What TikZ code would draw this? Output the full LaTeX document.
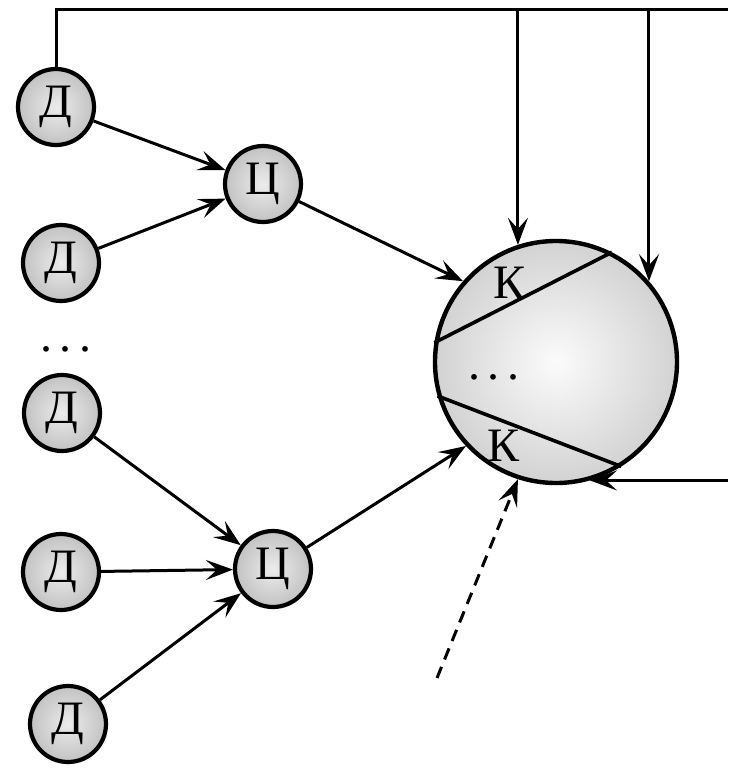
\documentclass[tikz,border=0pt]{standalone}
\usepackage{fontspec}
\setmainfont{Liberation Serif}
\usetikzlibrary{arrows.meta}
\begin{document}
\begin{tikzpicture}[x=1pt,y=-1pt,
  small/.style={circle,draw,line width=4.2pt,minimum size=76pt,inner sep=0pt,
    shading=radial,inner color=gray!15,outer color=gray!48,
    font=\fontsize{48}{48}\selectfont},
  bigc/.style={circle,draw,line width=4.4pt,minimum size=242pt,inner sep=0pt,
    shading=radial,inner color=gray!3,outer color=gray!35},
  lbl/.style={font=\fontsize{48}{48}\selectfont,inner sep=0pt},
  arr/.style={line width=3pt,-{Stealth[length=27pt,width=20pt,inset=11pt]}},
  ln/.style={line width=3pt},
  dsh/.style={arr,dash pattern=on 12pt off 8pt}]
\useasboundingbox (0,0) rectangle (728,768);
% nodes
\node[small] (d1) at (56,107) {Д};
\node[small] (d2) at (61,263) {Д};
\node[small] (c1) at (263,184) {Ц};
\node[lbl,anchor=base] (dl) at (66,351) {.\hspace{8pt}.\hspace{8pt}.};
\node[small] (d3) at (62,413) {Д};
\node[small] (d4) at (61,572) {Д};
\node[small] (c2) at (273,569) {Ц};
\node[small] (d5) at (68,724) {Д};
\node[bigc] (big) at (556,362) {};
\draw[line width=3.6pt] (big.171) -- (big.63);
\draw[line width=3.6pt] (big.196) -- (big.302);
\node[lbl] (k1) at (510,283) {К};
\node[lbl] (k2) at (504,446) {К};
\node[lbl,anchor=base] (bd) at (494,379) {.\hspace{8pt}.\hspace{8pt}.};
% connectors
\draw[arr] (d1) -- (c1);
\draw[arr] (d2) -- (c1);
\draw[arr] (c1) -- (big.139);
\draw[arr] (d3) -- (c2);
\draw[arr] (d4) -- (c2);
\draw[arr] (d5) -- (c2);
\draw[arr] (c2) -- (big.223);
\coordinate (ds) at (437,678);
\draw[dsh] (ds) -- (big.252);
% feedback
\coordinate (tl) at (d1.north |- 0,10);
\coordinate (tr) at (728,10);
\coordinate (t1) at (big.108 |- 0,10);
\coordinate (t2) at (big.41 |- 0,10);
\draw[ln] (d1.north) -- (tl) -- (tr);
\draw[arr] (t1) -- (big.108);
\draw[arr] (t2) -- (big.41);
\coordinate (rr) at (big.-74 -| 728,0);
\draw[arr] (rr) -- (big.-74);
\end{tikzpicture}
\end{document}
